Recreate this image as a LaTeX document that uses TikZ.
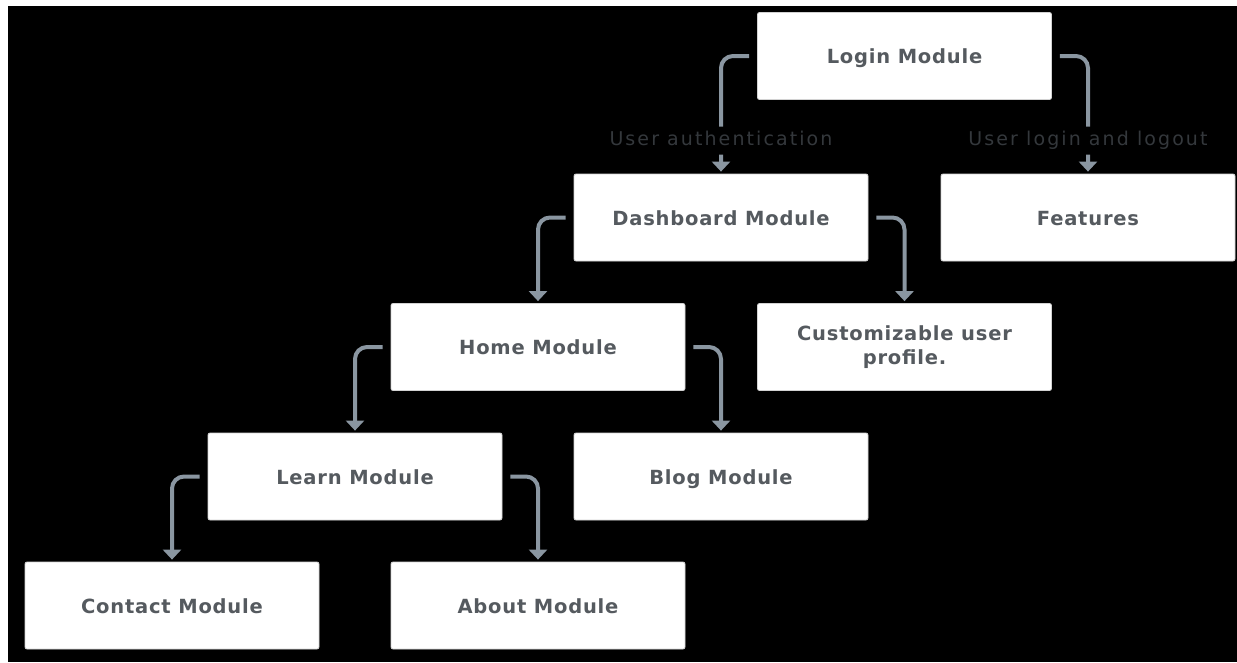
\documentclass[tikz,border=0pt]{standalone}
\usepackage{fontspec}
\setmainfont{DejaVu Sans}
\newfontfamily\boxfont[LetterSpace=4]{DejaVu Sans}
\newfontfamily\lblfont[LetterSpace=11]{DejaVu Sans}
\usetikzlibrary{arrows.meta}
\definecolor{conncol}{HTML}{8A96A1}
\definecolor{boxtext}{HTML}{555A5F}
\definecolor{lbltext}{HTML}{34383C}
\tikzset{
  modbox/.style={rectangle, fill=white, draw=gray!35, line width=0.8pt, rounded corners=2pt,
    minimum width=294pt, minimum height=87pt, inner sep=4pt, align=center,
    text=boxtext, font=\boxfont\bfseries\fontsize{19.5}{24}\selectfont},
  oneline/.style={text height=15pt, text depth=0pt},
  conn/.style={draw=conncol, line width=4pt, rounded corners=12pt,
    -{Triangle[width=18pt,length=10pt]}, shorten >=2pt},
  lbl/.style={fill=black, text=lbltext, inner xsep=2pt, inner ysep=5pt,
    text height=14pt, text depth=4pt,
    font=\lblfont\fontsize{19}{22}\selectfont}
}
\begin{document}
\begin{tikzpicture}[x=1pt,y=-1pt]
\useasboundingbox (0,0) rectangle (1237,662);
\fill[white] (0,0) rectangle (1237,662);
\fill[black] (8,6) rectangle (1237,662);

\node[modbox, oneline] (login) at (904.5,56) {Login Module};
\node[modbox, oneline] (dash) at (721,217.5) {Dashboard Module};
\node[modbox, oneline] (feat) at (1088,217.5) {Features};
\node[modbox, oneline] (home) at (538,347) {Home Module};
\node[modbox] (cust) at (904.5,347) {Customizable user\\profile.};
\node[modbox, oneline] (learn) at (355,476.5) {Learn Module};
\node[modbox, oneline] (blog) at (721,476.5) {Blog Module};
\node[modbox, oneline] (contact) at (172,605.5) {Contact Module};
\node[modbox, oneline] (about) at (538,605.5) {About Module};

\draw[conn] ([xshift=-8pt]login.west) -| node[lbl, pos=0.86] {User authentication} (dash.north);
\draw[conn] ([xshift=8pt]login.east) -| node[lbl, pos=0.86] {User login and logout} (feat.north);
\draw[conn] ([xshift=-8pt]dash.west) -| (home.north);
\draw[conn] ([xshift=8pt]dash.east) -| (cust.north);
\draw[conn] ([xshift=-8pt]home.west) -| (learn.north);
\draw[conn] ([xshift=8pt]home.east) -| (blog.north);
\draw[conn] ([xshift=-8pt]learn.west) -| (contact.north);
\draw[conn] ([xshift=8pt]learn.east) -| (about.north);
\end{tikzpicture}
\end{document}
